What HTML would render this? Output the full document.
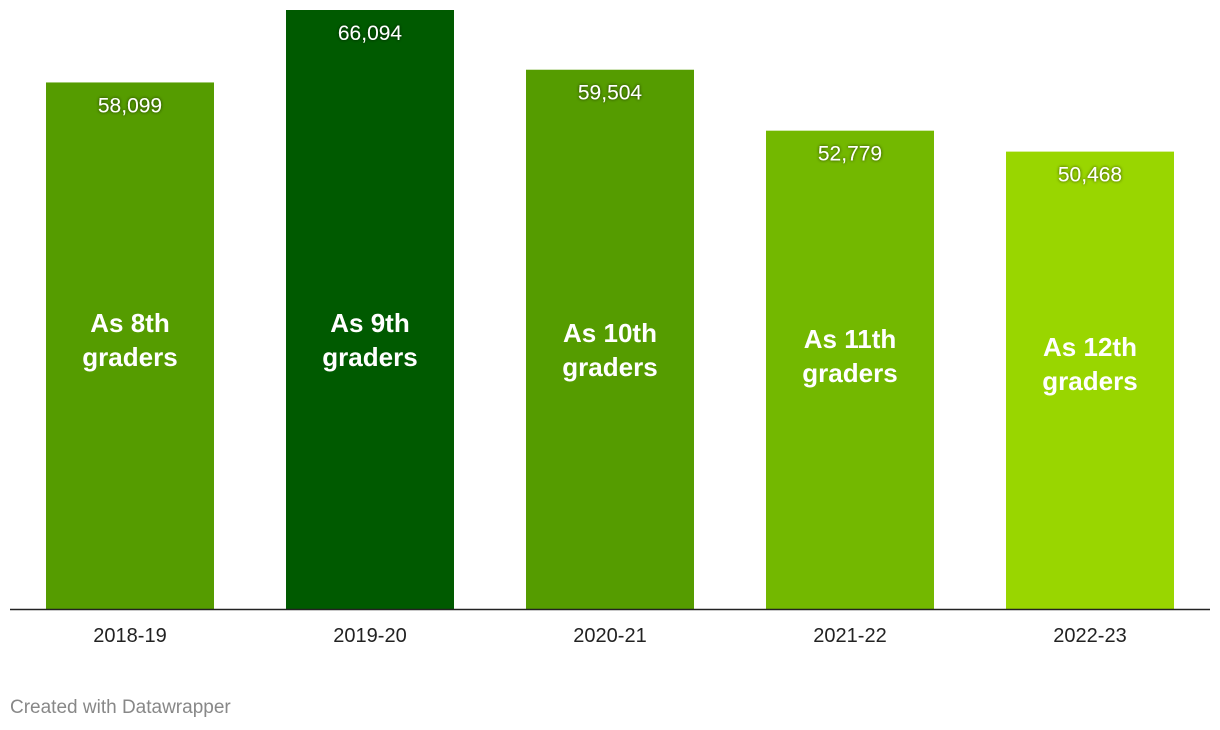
<!DOCTYPE html>
<html><head><meta charset="utf-8"><style>
body{margin:0;background:#fff;}
svg{display:block;font-family:"Liberation Sans",Arial,sans-serif;}
</style></head><body>
<svg id="chart" width="1220" height="730"></svg>
<script>
const categories = ["2018-19","2019-20","2020-21","2021-22","2022-23"];
const values = [58099,66094,59504,52779,50468];
const valueLabels = ["58,099","66,094","59,504","52,779","50,468"];
const noteLine1 = ["As 8th","As 9th","As 10th","As 11th","As 12th"];
const noteLine2 = ["graders","graders","graders","graders","graders"];
const colors = ["#559c00","#005a00","#559c00","#73b800","#99d600"];
const noteY = [340,340,350,356,364];

const NS="http://www.w3.org/2000/svg";
const svg=document.getElementById('chart');
const baseY=609, topY=10, maxV=66094;
const y=v=>baseY-(v/maxV)*(baseY-topY);
const x0=46, step=240, bw=168;
const x=i=>x0+i*step;
function mk(t,a){const e=document.createElementNS(NS,t);for(const k in a)e.setAttribute(k,a[k]);svg.appendChild(e);return e;}
const defs=mk('defs',{});
defs.innerHTML='<filter id="sh" x="-20%" y="-40%" width="140%" height="180%"><feDropShadow dx="0" dy="0" stdDeviation="1.5" flood-color="#000" flood-opacity="0.7"/></filter>';
categories.forEach((c,i)=>{
  const r=mk('rect',{x:x(i),y:y(values[i]),width:bw,height:baseY-y(values[i]),fill:colors[i]});
  
  
  const cx=x(i)+bw/2;
  const vl=mk('text',{x:cx,y:y(values[i])+30,'text-anchor':'middle','font-size':21,fill:'#fff',filter:'url(#sh)'});
  vl.textContent=valueLabels[i];
  
  
  const n=mk('text',{x:cx,'text-anchor':'middle','font-size':26,'font-weight':'bold',fill:'#fff'});
  
  
  const t1=document.createElementNS(NS,'tspan');t1.setAttribute('x',cx);t1.setAttribute('y',noteY[i]-8);t1.textContent=noteLine1[i];n.appendChild(t1);
  const t2=document.createElementNS(NS,'tspan');t2.setAttribute('x',cx);t2.setAttribute('y',noteY[i]+26);t2.textContent=noteLine2[i];n.appendChild(t2);
  const xl=mk('text',{x:cx,y:642,'text-anchor':'middle','font-size':20,fill:'#222'});
  xl.textContent=c;
  
  
});
const ax=mk('line',{x1:10,x2:1210,y1:609.5,y2:609.5,stroke:'#222','stroke-width':1.5});


const f=mk('text',{x:10,y:713,'font-size':19,fill:'#888'});
f.textContent='Created with Datawrapper';


</script>
</body></html>
